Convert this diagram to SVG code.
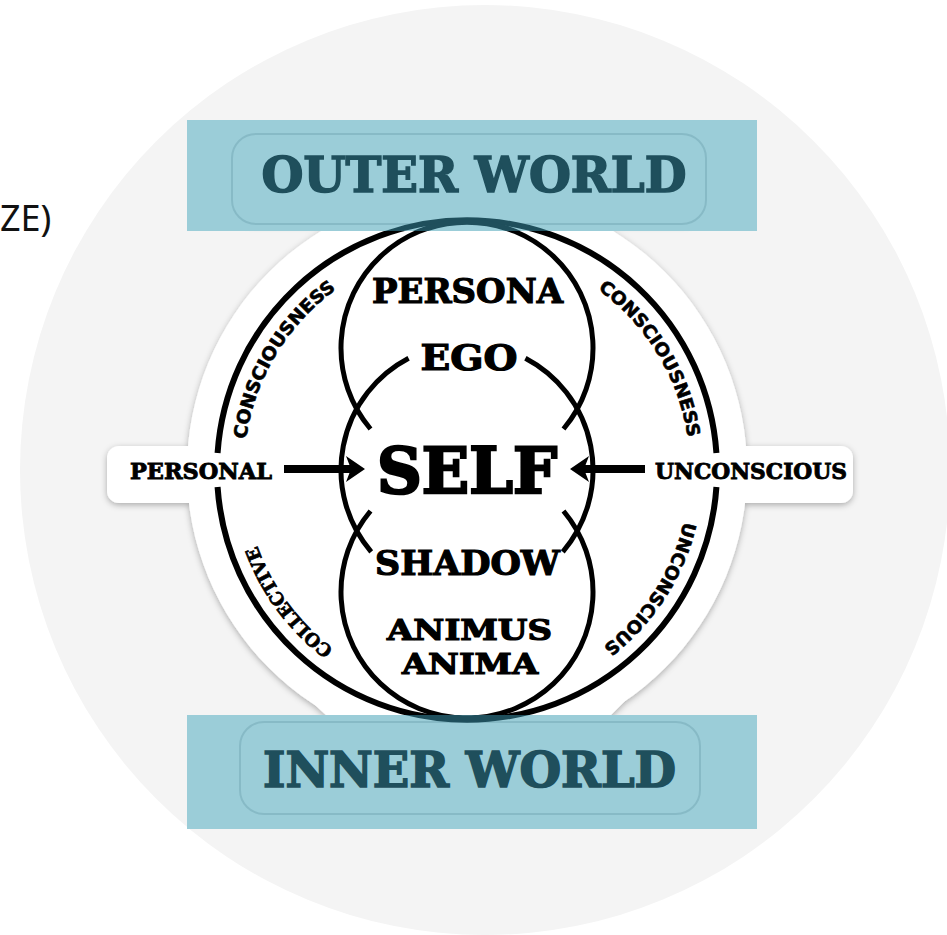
<svg xmlns="http://www.w3.org/2000/svg" width="947" height="935" viewBox="0 0 947 935">
<style>
.serif{font-family:"DejaVu Serif","Liberation Serif",serif;font-weight:bold;fill:#000;stroke:#000;stroke-width:1.2;text-anchor:middle}
.sans{font-family:"DejaVu Sans","Liberation Sans",sans-serif;font-weight:bold;fill:#000;stroke:#000;stroke-width:0.6;text-anchor:middle}
.boxtxt{font-family:"DejaVu Serif","Liberation Serif",serif;font-weight:bold;fill:#1f4f5c;stroke:#1f4f5c;stroke-width:1.6;text-anchor:middle}
.outer{fill:none;stroke:#000;stroke-width:6}
.rings{fill:none;stroke:#000;stroke-width:5}
.tealrings{fill:none;stroke:#1f4f5c;stroke-width:5.5}
.box{fill:#9bcdd8}
.bubble{fill:none;stroke:#87bac6;stroke-width:2}
</style>
<defs>
<filter id="shadow" x="-10%" y="-10%" width="120%" height="120%">
<feDropShadow dx="0" dy="2" stdDeviation="3" flood-color="#000" flood-opacity="0.3"/>
</filter>
<path id="txtCircle" d="M 690 470 A 223 223 0 1 1 244 470 A 223 223 0 1 1 690 470"/>
<path id="outerTop" d="M 217.58 453 A 250 250 0 0 1 716.42 453"/>
<path id="outerBot" d="M 716.42 487 A 250 250 0 0 1 217.58 487"/>
<path id="topCirc" d="M 370.5 429 A 126 126 0 1 1 563.5 429"/>
<path id="botCirc" d="M 563.5 511 A 126 126 0 1 1 370.5 511"/>
<path id="midL" d="M 371.2 551.8 A 126 126 0 0 1 408.6 358.3"/>
<path id="midR" d="M 525.4 358.3 A 126 126 0 0 1 562.8 551.8"/>
<clipPath id="boxClip">
<rect x="187" y="120" width="570" height="111"/>
<rect x="187" y="715" width="570" height="114"/>
</clipPath>
</defs>

<rect width="947" height="935" fill="#fff"/>
<circle cx="485" cy="470" r="465" fill="#f4f4f4"/>
<text x="0" y="231" font-family="'Noto Sans','DejaVu Sans',sans-serif" font-size="36" fill="#111">ZE)</text>

<g id="sticker" filter="url(#shadow)" fill="#fff">
<circle cx="467" cy="470" r="280"/>
<rect x="107" y="446" width="110" height="57" rx="12"/>
<rect x="720" y="446" width="133" height="57" rx="12"/>
<rect x="232" y="134" width="474" height="90" rx="24"/>
<rect x="240" y="722" width="460" height="92" rx="24"/>
<polygon points="338,220 600,220 640,254 294,254"/>
<polygon points="294,686 640,686 600,726 338,726"/>
</g>

<g id="outer-circle" class="outer">
<use href="#outerTop"/>
<use href="#outerBot"/>
</g>
<g id="venn" class="rings">
<use href="#topCirc"/>
<use href="#midL"/>
<use href="#midR"/>
<use href="#botCirc"/>
</g>

<g id="connectors">
<line x1="284" y1="469" x2="352" y2="469" stroke="#000" stroke-width="8"/>
<polygon points="365,469 346,456 351,469 346,482" fill="#000"/>
<line x1="645" y1="469" x2="583" y2="469" stroke="#000" stroke-width="8"/>
<polygon points="570,469 589,456 584,469 589,482" fill="#000"/>
</g>

<g id="arc-labels">
<text class="sans" font-size="18"><textPath href="#txtCircle" startOffset="821" textLength="180" lengthAdjust="spacingAndGlyphs">CONSCIOUSNESS</textPath></text>
<text class="sans" font-size="18"><textPath href="#txtCircle" startOffset="1279" textLength="178" lengthAdjust="spacingAndGlyphs">CONSCIOUSNESS</textPath></text>
<text class="serif" font-size="18" style="stroke-width:0.8"><textPath href="#txtCircle" startOffset="558" textLength="130" lengthAdjust="spacingAndGlyphs">COLLECTIVE</textPath></text>
<text class="sans" font-size="18"><textPath href="#txtCircle" startOffset="128" textLength="152" lengthAdjust="spacingAndGlyphs">UNCONSCIOUS</textPath></text>
</g>

<g id="node-personal"><text class="serif" x="201" y="479" font-size="22" style="stroke-width:0.9" textLength="142" lengthAdjust="spacingAndGlyphs">PERSONAL</text></g>
<g id="node-unconscious"><text class="serif" x="751" y="479" font-size="22" style="stroke-width:0.9" textLength="192" lengthAdjust="spacingAndGlyphs">UNCONSCIOUS</text></g>
<g id="node-persona"><text class="serif" x="467.5" y="303" font-size="34" textLength="191" lengthAdjust="spacingAndGlyphs">PERSONA</text></g>
<g id="node-ego"><text class="serif" x="469" y="370" font-size="35" textLength="97" lengthAdjust="spacingAndGlyphs">EGO</text></g>
<g id="node-self"><text class="serif" x="467" y="493" font-size="64" style="stroke-width:2.6" textLength="180" lengthAdjust="spacingAndGlyphs">SELF</text></g>
<g id="node-shadow"><text class="serif" x="467.5" y="575" font-size="34" textLength="185" lengthAdjust="spacingAndGlyphs">SHADOW</text></g>
<g id="node-animus"><text class="serif" x="469.5" y="640" font-size="28" textLength="165" lengthAdjust="spacingAndGlyphs">ANIMUS</text>
<text class="serif" x="470" y="674" font-size="28" textLength="136" lengthAdjust="spacingAndGlyphs">ANIMA</text></g>

<g id="node-outer-world">
<rect class="box" x="187" y="120" width="570" height="111"/>
<rect class="bubble" x="232" y="134" width="474" height="90" rx="24"/>
<g class="tealrings" clip-path="url(#boxClip)">
<use href="#outerTop"/>
<use href="#topCirc"/>
</g>
<text class="boxtxt" x="474" y="192" font-size="48" textLength="425" lengthAdjust="spacingAndGlyphs">OUTER WORLD</text>
</g>
<g id="node-inner-world">
<rect class="box" x="187" y="715" width="570" height="114"/>
<rect class="bubble" x="240" y="722" width="460" height="92" rx="24"/>
<g class="tealrings" clip-path="url(#boxClip)">
<use href="#outerBot"/>
<use href="#botCirc"/>
</g>
<text class="boxtxt" x="469.5" y="787" font-size="48" textLength="413" lengthAdjust="spacingAndGlyphs">INNER WORLD</text>
</g>
</svg>
